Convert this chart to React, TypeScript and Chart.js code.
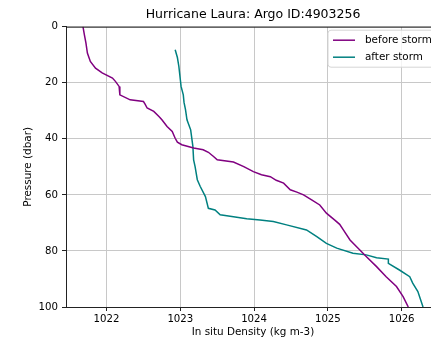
import React, { useEffect, useRef } from "react";
import { Chart, registerables } from "chart.js";

Chart.register(...registerables);

const TITLE = "Hurricane Laura: Argo ID:4903256";
const X_LABEL = "In situ Density (kg m-3)";
const Y_LABEL = "Pressure (dbar)";
const SERIES_NAMES = ["before storm", "after storm"];
const SERIES_COLORS = ["#800080", "#008080"];

const X_TICKS = [1022, 1023, 1024, 1025, 1026];
const Y_TICKS = [0, 20, 40, 60, 80, 100];
const X_MIN = 1021.45;
const X_MAX = 1026.52;

const beforeDensity = [
  1021.68, 1021.7, 1021.72, 1021.74, 1021.78, 1021.85, 1021.94, 1022.08, 1022.12, 1022.17,
  1022.18, 1022.32, 1022.5, 1022.52, 1022.55, 1022.64, 1022.71, 1022.75, 1022.82, 1022.89,
  1022.93, 1022.96, 1023.02, 1023.18, 1023.31, 1023.38, 1023.45, 1023.5, 1023.72, 1023.86,
  1023.99, 1024.1, 1024.22, 1024.3, 1024.4, 1024.49, 1024.58, 1024.67, 1024.78, 1024.89,
  1024.98, 1025.09, 1025.16, 1025.21, 1025.3, 1025.43, 1025.52, 1025.66, 1025.79, 1025.93,
  1026.02, 1026.09,
];
const beforePressure = [
  0, 3, 5.8, 9.4, 12.4, 14.8, 16.5, 18.3, 19.5, 21.3,
  24.3, 26.1, 26.7, 27.5, 29, 30.2, 32, 33.2, 35.6, 37.4,
  39.8, 41.2, 42.1, 43.3, 43.9, 44.8, 46.3, 47.5, 48.3, 49.9,
  51.7, 52.8, 53.5, 54.8, 55.8, 58.2, 59, 60, 61.8, 63.6,
  66.5, 68.9, 70.5, 72.5, 76.1, 79.6, 82, 85.6, 89.2, 92.7,
  96.3, 100,
];

const afterDensity = [
  1022.93, 1022.96, 1022.98, 1023.01, 1023.04, 1023.05, 1023.07, 1023.09, 1023.14, 1023.17,
  1023.18, 1023.2, 1023.23, 1023.27, 1023.34, 1023.38, 1023.47, 1023.54, 1023.72, 1023.9,
  1024.08, 1024.26, 1024.44, 1024.71, 1024.85, 1024.98, 1025.12, 1025.34, 1025.52, 1025.66,
  1025.82, 1025.82, 1025.97, 1026.11, 1026.15, 1026.22, 1026.29,
];
const afterPressure = [
  8.2, 11, 14.2, 21.3, 24.3, 27, 29.6, 33.2, 36.8, 42.7,
  47.5, 49.9, 54.6, 57, 60.6, 64.8, 65.4, 67.1, 67.8, 68.5,
  69, 69.5, 70.7, 72.5, 74.9, 77.3, 79, 80.8, 81.4, 82.4,
  82.9, 84.4, 86.8, 89.2, 91.5, 94.5, 100,
];

const FONT = "'DejaVu Sans', sans-serif";

const framePlugin = {
  id: "frameAndLegend",
  afterDraw(chart: any) {
    const { ctx, chartArea } = chart;
    ctx.save();
    ctx.strokeStyle = "#222";
    ctx.lineWidth = 1;
    ctx.beginPath();
    ctx.moveTo(chartArea.left, chartArea.top + 0.5);
    ctx.lineTo(chartArea.right, chartArea.top + 0.5);
    ctx.moveTo(chartArea.right - 0.5, chartArea.top);
    ctx.lineTo(chartArea.right - 0.5, chartArea.bottom);
    ctx.stroke();

    // legend (upper right)
    const bx = chartArea.right - 112;
    const by = chartArea.top + 3.5;
    const bw = 108;
    const bh = 37;
    const r = 3;
    ctx.beginPath();
    ctx.moveTo(bx + r, by);
    ctx.lineTo(bx + bw - r, by);
    ctx.arcTo(bx + bw, by, bx + bw, by + r, r);
    ctx.lineTo(bx + bw, by + bh - r);
    ctx.arcTo(bx + bw, by + bh, bx + bw - r, by + bh, r);
    ctx.lineTo(bx + r, by + bh);
    ctx.arcTo(bx, by + bh, bx, by + bh - r, r);
    ctx.lineTo(bx, by + r);
    ctx.arcTo(bx, by, bx + r, by, r);
    ctx.closePath();
    ctx.fillStyle = "rgba(255,255,255,0.8)";
    ctx.fill();
    ctx.strokeStyle = "#d5d5d5";
    ctx.lineWidth = 1;
    ctx.stroke();

    chart.data.datasets.forEach((ds: any, i: number) => {
      const y = by + 10 + i * 17;
      ctx.strokeStyle = ds.borderColor;
      ctx.lineWidth = 1.5;
      ctx.beginPath();
      ctx.moveTo(bx + 5, y);
      ctx.lineTo(bx + 27, y);
      ctx.stroke();
      ctx.fillStyle = "#000";
      ctx.font = "10.4px " + FONT;
      ctx.textBaseline = "middle";
      ctx.textAlign = "left";
      ctx.fillText(ds.label, bx + 37, y);
    });
    ctx.restore();
  },
};

export default function App() {
  const ref = useRef<HTMLCanvasElement | null>(null);

  useEffect(() => {
    document.body.style.margin = "0";
    const canvas = ref.current;
    if (!canvas) return;
    const chart = new Chart(canvas, {
      type: "scatter",
      data: {
        datasets: [
          {
            label: SERIES_NAMES[0],
            data: beforeDensity.map((x, i) => ({ x, y: beforePressure[i] })),
            borderColor: SERIES_COLORS[0],
            backgroundColor: SERIES_COLORS[0],
            showLine: true,
            pointRadius: 0,
            borderWidth: 1.5,
            tension: 0,
          },
          {
            label: SERIES_NAMES[1],
            data: afterDensity.map((x, i) => ({ x, y: afterPressure[i] })),
            borderColor: SERIES_COLORS[1],
            backgroundColor: SERIES_COLORS[1],
            showLine: true,
            pointRadius: 0,
            borderWidth: 1.5,
            tension: 0,
          },
        ],
      },
      options: {
        responsive: false,
        animation: false,
        devicePixelRatio: 1,
        layout: { padding: { left: 0, right: 5, top: 0, bottom: 0 } },
        plugins: {
          legend: { display: false },
          tooltip: { enabled: false },
          title: {
            display: true,
            text: TITLE,
            fullSize: false,
            color: "#000",
            font: { family: FONT, size: 12.5, weight: "normal", lineHeight: 1.2 },
            padding: { top: 7.7, bottom: 4 },
          },
        },
        scales: {
          x: {
            type: "linear",
            min: X_MIN,
            max: X_MAX,
            afterBuildTicks: (scale: any) => {
              scale.ticks = X_TICKS.map((v) => ({ value: v }));
            },
            afterFit: (scale: any) => {
              scale.height = 35;
            },
            ticks: {
              color: "#000",
              font: { family: FONT, size: 10.2 },
              padding: 2,
              maxRotation: 0,
              callback: (v: any) => String(v),
            },
            grid: {
              color: "#c8c8c8",
              lineWidth: 1,
              drawTicks: true,
              tickLength: 4,
              tickColor: "#222",
            },
            border: { display: true, color: "#222", width: 1 },
            title: {
              display: true,
              text: X_LABEL,
              color: "#000",
              font: { family: FONT, size: 10.4 },
              padding: { top: 0, bottom: 3 },
            },
          },
          y: {
            type: "linear",
            reverse: true,
            min: 0,
            max: 100,
            afterBuildTicks: (scale: any) => {
              scale.ticks = Y_TICKS.map((v) => ({ value: v }));
            },
            afterFit: (scale: any) => {
              scale.width = 66;
            },
            ticks: {
              color: "#000",
              font: { family: FONT, size: 10.2 },
              padding: 4,
              callback: (v: any) => String(v),
            },
            grid: {
              color: "#c8c8c8",
              lineWidth: 1,
              drawTicks: true,
              tickLength: 4,
              tickColor: "#222",
            },
            border: { display: true, color: "#222", width: 1 },
            title: {
              display: true,
              text: Y_LABEL,
              color: "#000",
              font: { family: FONT, size: 10.4 },
              padding: { top: 22, bottom: 0 },
            },
          },
        },
      },
      plugins: [framePlugin],
    } as any);
    return () => chart.destroy();
  }, []);

  return (
    <div style={{ width: 431, height: 342, overflow: "hidden", position: "relative" }}>
      <canvas ref={ref} width={445} height={342} style={{ display: "block" }} />
    </div>
  );
}
